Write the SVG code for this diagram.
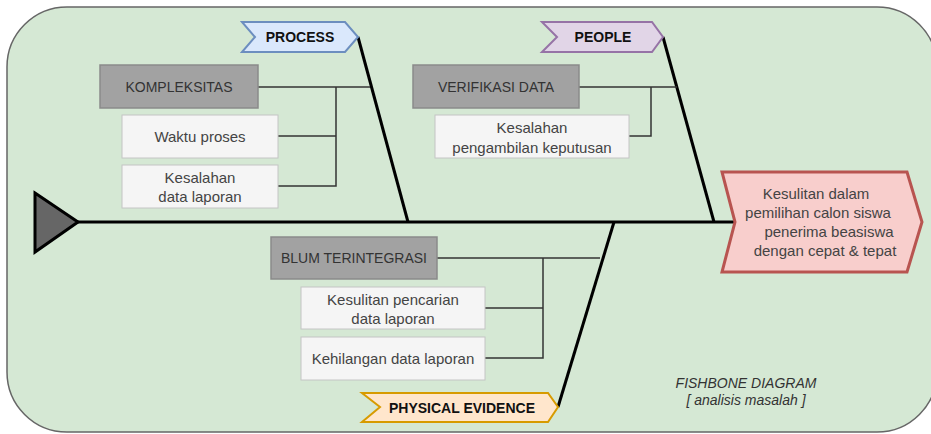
<svg xmlns="http://www.w3.org/2000/svg" width="931" height="434" viewBox="0 0 931 434">
<style>
text{font-family:"Liberation Sans",Arial,sans-serif;text-anchor:middle;dominant-baseline:central}
.hdr{fill:#a2a2a2;stroke:#8a8a8a;stroke-width:1.5}
.sub{fill:#f5f5f5;stroke:#c4c4c4;stroke-width:1}
.ht{font-size:14px;fill:#333}
.st{font-size:15px;fill:#444}
.tag{font-size:14px;font-weight:bold;fill:#111}
.bone{stroke:#000;stroke-width:3;fill:none}
.twig{stroke:#333;stroke-width:1.5;fill:none}
</style>
<rect x="7" y="7" width="930" height="425" rx="60" ry="60" fill="#d5e8d4" stroke="#666" stroke-width="1.5"/>
<g id="connectors">
<line class="bone" x1="78" y1="222" x2="735" y2="222"/>
<line class="bone" x1="358" y1="37" x2="408" y2="222"/>
<line class="bone" x1="663" y1="37" x2="714" y2="222"/>
<line class="bone" x1="614" y1="222" x2="558" y2="407"/>
<polyline class="twig" points="258,87 370,87"/>
<polyline class="twig" points="336,87 336,186 278,186"/>
<line class="twig" x1="278" y1="136" x2="336" y2="136"/>
<polyline class="twig" points="579,87 677,87"/>
<polyline class="twig" points="651,87 651,136 629,136"/>
<polyline class="twig" points="437,258 600,258"/>
<polyline class="twig" points="543,258 543,358 485,358"/>
<line class="twig" x1="485" y1="308" x2="543" y2="308"/>
</g>
<g id="tail"><polygon points="35,193 78,222 35,252" fill="#666" stroke="#000" stroke-width="3" stroke-linejoin="miter"/></g>
<g id="process"><polygon points="242,22 345,22 358,37 345,52 242,52 255,37" fill="#dae8fc" stroke="#6c8ebf" stroke-width="2"/><text class="tag" x="300" y="37">PROCESS</text></g>
<g id="people"><polygon points="542,22 652,22 663,37 652,52 542,52 557,37" fill="#e1d5e7" stroke="#9673a6" stroke-width="2"/><text class="tag" x="603" y="37">PEOPLE</text></g>
<g id="physical"><polygon points="362,393 548,393 558,407 548,422 362,422 380,407" fill="#ffe6cc" stroke="#d79b00" stroke-width="2"/><text class="tag" x="462" y="408">PHYSICAL EVIDENCE</text></g>
<g id="kompleksitas"><rect class="hdr" x="100" y="65" width="158" height="43"/><text class="ht" x="179" y="87">KOMPLEKSITAS</text></g>
<g id="waktu"><rect class="sub" x="122" y="115" width="156" height="43"/><text class="st" x="200" y="136">Waktu proses</text></g>
<g id="kesalahan-data"><rect class="sub" x="122" y="165" width="156" height="43"/><text class="st" x="200" y="177">Kesalahan</text><text class="st" x="200" y="196">data laporan</text></g>
<g id="verifikasi"><rect class="hdr" x="413" y="65" width="166" height="43"/><text class="ht" x="496" y="87">VERIFIKASI DATA</text></g>
<g id="kesalahan-keputusan"><rect class="sub" x="435" y="115" width="194" height="43"/><text class="st" x="532" y="127">Kesalahan</text><text class="st" x="532" y="147">pengambilan keputusan</text></g>
<g id="blum"><rect class="hdr" x="271" y="237" width="166" height="42"/><text class="ht" x="354" y="258">BLUM TERINTEGRASI</text></g>
<g id="kesulitan-pencarian"><rect class="sub" x="301" y="287" width="184" height="42"/><text class="st" x="393" y="299">Kesulitan pencarian</text><text class="st" x="393" y="318">data laporan</text></g>
<g id="kehilangan"><rect class="sub" x="301" y="337" width="184" height="43"/><text class="st" x="393" y="358">Kehilangan data laporan</text></g>
<g id="head"><polygon points="722,172 907,172 922,222 907,272 722,272 735,222" fill="#f8cecc" stroke="#b85450" stroke-width="3"/>
<text class="st" x="816" y="193">Kesulitan dalam</text><text class="st" x="818" y="212">pemilihan calon siswa</text><text class="st" x="829" y="231">penerima beasiswa</text><text class="st" x="825" y="250">dengan cepat &amp; tepat</text></g>
<g id="title"><text x="746" y="383" font-size="14" font-style="italic" fill="#333">FISHBONE DIAGRAM</text><text x="746" y="400" font-size="14" font-style="italic" fill="#333">[ analisis masalah ]</text></g>
</svg>
